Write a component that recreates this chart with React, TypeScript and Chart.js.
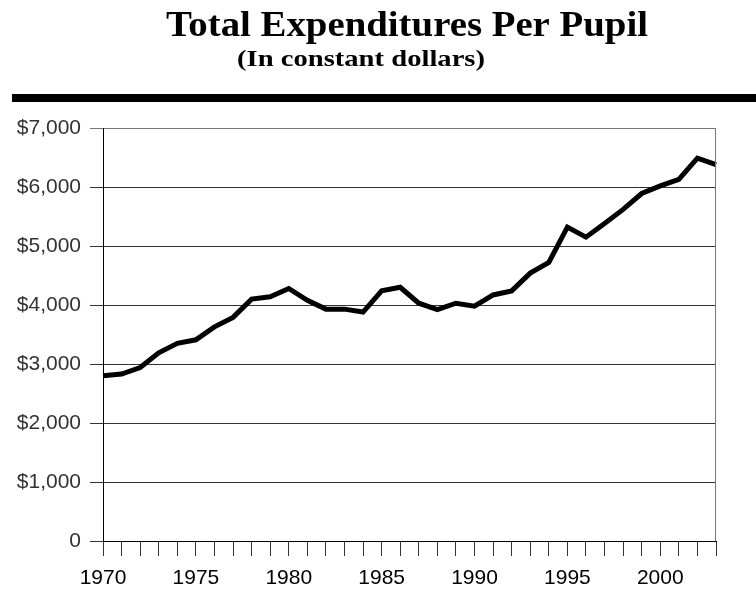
import React, { useEffect, useRef } from "react";
import { Chart, registerables } from "chart.js";

Chart.register(...registerables);

const years: string[] = [
  "1970", "1971", "1972", "1973", "1974", "1975", "1976", "1977", "1978", "1979",
  "1980", "1981", "1982", "1983", "1984", "1985", "1986", "1987", "1988", "1989",
  "1990", "1991", "1992", "1993", "1994", "1995", "1996", "1997", "1998", "1999",
  "2000", "2001", "2002", "2003",
];

const expenditures: number[] = [
  2800, 2830, 2940, 3190, 3350, 3410, 3630, 3790, 4100, 4140,
  4280, 4080, 3930, 3930, 3880, 4240, 4300, 4030, 3920, 4030,
  3980, 4170, 4240, 4540, 4720, 5320, 5150, 5380, 5620, 5890,
  6020, 6130, 6490, 6380,
];

const yTickLabels: Record<number, string> = {
  0: "0",
  1000: "$1,000",
  2000: "$2,000",
  3000: "$3,000",
  4000: "$4,000",
  5000: "$5,000",
  6000: "$6,000",
  7000: "$7,000",
};

const titleText = "Total Expenditures Per Pupil";
const subtitleText = "(In constant dollars)";

const headerPlugin = {
  id: "header",
  afterDraw(chart: any) {
    const ctx = chart.ctx as CanvasRenderingContext2D;
    const area = chart.chartArea;
    ctx.save();
    ctx.fillStyle = "#000";
    ctx.textBaseline = "alphabetic";
    ctx.textAlign = "left";

    const drawCondensed = (text: string, font: string, x0: number, x1: number, baseline: number) => {
      ctx.font = font;
      const w = ctx.measureText(text).width;
      const sx = (x1 - x0) / w;
      ctx.save();
      ctx.translate(x0, baseline);
      ctx.scale(sx, 1);
      ctx.fillText(text, 0, 0);
      ctx.restore();
    };

    drawCondensed(titleText, "bold 35px 'Liberation Serif'", 166, 648, 36);
    drawCondensed(subtitleText, "bold 23px 'Liberation Serif'", 237, 485, 66);

    // thick rule
    ctx.fillRect(12, 94, chart.width - 12, 8);

    // right border of plot
    ctx.strokeStyle = "#777";
    ctx.lineWidth = 1;
    ctx.beginPath();
    const rx = Math.round(area.right) - 0.5;
    ctx.moveTo(rx, area.top);
    ctx.lineTo(rx, area.bottom);
    ctx.stroke();
    ctx.restore();
  },
};

export default function App() {
  const canvasRef = useRef<HTMLCanvasElement | null>(null);

  useEffect(() => {
    if (!canvasRef.current) return;
    const chart = new Chart(canvasRef.current, {
      type: "line",
      data: {
        labels: years,
        datasets: [
          {
            data: expenditures,
            borderColor: "#000",
            borderWidth: 5,
            pointRadius: 0,
            tension: 0,
            borderJoinStyle: "miter",
            fill: false,
          },
        ],
      },
      options: {
        animation: false,
        responsive: false,
        maintainAspectRatio: false,
        layout: { padding: { top: 128, right: 40, left: 0, bottom: 0 } },
        plugins: {
          legend: { display: false },
          tooltip: { enabled: false },
          title: { display: false },
        },
        scales: {
          x: {
            type: "category",
            offset: false,
            grid: {
              display: true,
              drawOnChartArea: false,
              drawTicks: true,
              tickLength: 15,
              color: "#333",
              lineWidth: 1,
            },
            border: { display: true, color: "#000", width: 1 },
            ticks: {
              autoSkip: false,
              maxRotation: 0,
              minRotation: 0,
              padding: 10,
              color: "#000",
              font: { family: "'Liberation Sans'", size: 21, weight: "normal" },
              callback: (_v: any, i: number) => (Number(years[i]) % 5 === 0 ? years[i] : ""),
            },
            afterFit: (s: any) => {
              s.height = 592 - 541;
            },
          },
          y: {
            min: 0,
            max: 7000,
            grid: {
              display: true,
              drawOnChartArea: true,
              drawTicks: true,
              tickLength: 13,
              color: (c: any) => (c.tick && c.tick.value === 7000 ? "#777" : "#333"),
              lineWidth: 1,
            },
            border: { display: true, color: "#000", width: 1 },
            ticks: {
              stepSize: 1000,
              padding: 9,
              color: "#333",
              font: { family: "'Liberation Sans'", size: 21, weight: "normal" },
              callback: (v: any) => yTickLabels[Number(v)] ?? "",
            },
            afterFit: (s: any) => {
              s.width = 103;
            },
          },
        },
      },
      plugins: [headerPlugin],
    } as any);
    return () => chart.destroy();
  }, []);

  return (
    <div style={{ position: "fixed", left: 0, top: 0, width: 756, height: 592, background: "#fff" }}>
      <canvas ref={canvasRef} width={756} height={592} style={{ display: "block" }} />
    </div>
  );
}
